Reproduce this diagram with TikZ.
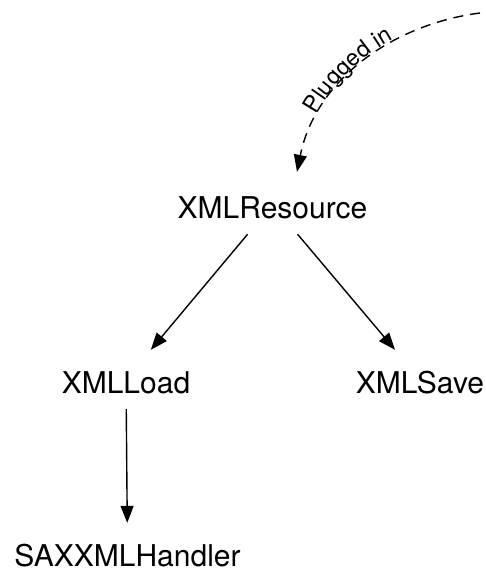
\documentclass[tikz,border=0pt]{standalone}
\usepackage{fontspec}
\setmainfont{TeX Gyre Heros}
\usetikzlibrary{arrows.meta,decorations.text}
\begin{document}
\begin{tikzpicture}[x=1pt,y=-1pt,
  cls/.style={font=\fontsize{30}{36}\selectfont, anchor=base,
    text height=27pt, text depth=0pt, inner ysep=16pt, inner xsep=2pt},
  link/.style={line width=1.4pt, -{Triangle[length=17pt,width=13pt]}},
  plug/.style={link, dash pattern=on 10pt off 7pt}]
\useasboundingbox (0,0) rectangle (486,570);

% class nodes
\node[cls] (res)  at (272.5,218) {XMLResource};
\node[cls] (load) at (126,393)   {XMLLoad};
\node[cls] (save) at (420,393)   {XMLSave};
\node[cls] (sax)  at (127.5,566) {SAXXMLHandler};

% plug-in connector coming from outside
\coordinate (src) at (480,13);
\coordinate (plugtip) at ([xshift=24.5pt,yshift=3pt]res.north);
\draw[plug] (src) .. controls (395,24) and (316,78) .. (plugtip);
\path[decorate, decoration={text along path,
    text={|\fontsize{23}{23}\selectfont|Plugged in},
    text align={left indent=60pt}, raise=2pt}]
  (plugtip) .. controls (316,78) and (395,24) .. (src);

% containment arrows
\draw[link] (res) -- (load);
\draw[link] (res) -- (save);
\draw[link] (load) -- (sax);
\end{tikzpicture}
\end{document}
